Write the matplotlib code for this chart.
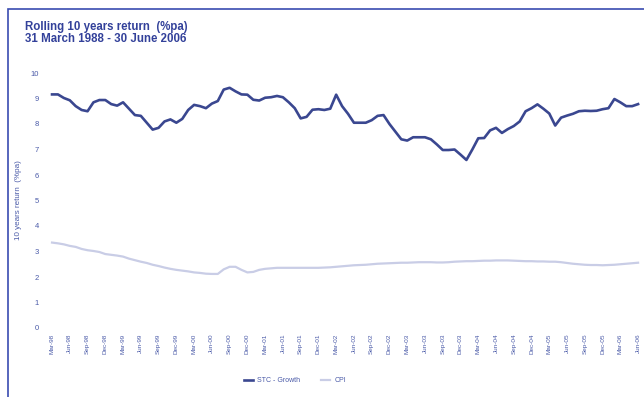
import matplotlib
matplotlib.use("Agg")
import matplotlib.pyplot as plt
from matplotlib.patches import Rectangle

# rolling 10 year returns, monthly, Mar-98 .. Jun-06
stc_growth = [9.16, 9.16, 9.02, 8.93, 8.70, 8.55, 8.50, 8.85, 8.94, 8.94,
              8.78, 8.72, 8.85, 8.60, 8.35, 8.32, 8.05, 7.78, 7.85, 8.10,
              8.18, 8.05, 8.20, 8.55, 8.75, 8.70, 8.62, 8.80, 8.90, 9.35,
              9.42, 9.28, 9.16, 9.15, 8.95, 8.92, 9.03, 9.05, 9.10, 9.05,
              8.85, 8.62, 8.22, 8.28, 8.56, 8.58, 8.55, 8.60, 9.15, 8.70,
              8.40, 8.05, 8.05, 8.05, 8.15, 8.32, 8.35, 8.00, 7.70, 7.40,
              7.35, 7.48, 7.48, 7.48, 7.40, 7.20, 6.98, 6.98, 7.00, 6.80,
              6.59, 7.00, 7.44, 7.45, 7.75, 7.85, 7.65, 7.80, 7.92, 8.10,
              8.50, 8.62, 8.77, 8.60, 8.41, 7.94, 8.25, 8.33, 8.40, 8.50,
              8.52, 8.51, 8.52, 8.58, 8.62, 8.98, 8.85, 8.70, 8.70, 8.78]
cpi = [3.35, 3.32, 3.28, 3.22, 3.18, 3.10, 3.05, 3.02, 2.98, 2.90,
       2.87, 2.84, 2.80, 2.72, 2.66, 2.60, 2.55, 2.48, 2.43, 2.37,
       2.32, 2.28, 2.25, 2.22, 2.18, 2.16, 2.13, 2.12, 2.12, 2.30,
       2.40, 2.40, 2.28, 2.18, 2.20, 2.28, 2.32, 2.34, 2.36, 2.36,
       2.36, 2.36, 2.36, 2.36, 2.36, 2.36, 2.37, 2.38, 2.40, 2.42,
       2.44, 2.46, 2.47, 2.48, 2.50, 2.52, 2.53, 2.54, 2.55, 2.56,
       2.56, 2.57, 2.58, 2.58, 2.58, 2.57, 2.57, 2.58, 2.60, 2.61,
       2.62, 2.62, 2.63, 2.64, 2.64, 2.65, 2.65, 2.65, 2.64, 2.63,
       2.62, 2.62, 2.61, 2.61, 2.60, 2.60, 2.58, 2.55, 2.52, 2.50,
       2.48, 2.47, 2.47, 2.46, 2.47, 2.48, 2.50, 2.52, 2.54, 2.56]
quarters = ["Mar", "Jun", "Sep", "Dec"]
years = ["98", "99", "00", "01", "02", "03", "04", "05", "06"]
tick_labels = [q + "-" + y for y in years for q in quarters][:34]

navy = "#3a4790"
light = "#c9cde6"
txt = "#4a5aa8"

plt.rcParams["font.family"] = ["Liberation Sans", "DejaVu Sans"]

fig = plt.figure(figsize=(6.44, 3.97), dpi=100)
W, H = 644, 397
# blue frame (top and left visible)
fig.patches.append(Rectangle((8 / W, -0.1), 1.2, 1 - 9 / H + 0.1, transform=fig.transFigure,
                             fill=False, edgecolor="#3a4cb0", linewidth=1.2))

fig.text(25 / W, 1 - 27 / H, "Rolling 10 years return  (%pa)", fontsize=8.3,
         fontweight="bold", color="#33419a", va="center")
fig.text(25 / W, 1 - 39 / H, "31 March 1988 - 30 June 2006", fontsize=8.3,
         fontweight="bold", color="#33419a", va="center")

ax = fig.add_axes([47 / W, 1 - 328 / H, (644 - 47) / W, (328 - 73) / H])
x = list(range(len(stc_growth)))
ax.plot(x, stc_growth, color=navy, linewidth=1.9, label="STC - Growth")
ax.plot(x, cpi, color=light, linewidth=1.6, label="CPI")

ax.set_ylim(0, 10)
ax.set_xlim(-0.85, 100)
ax.set_yticks(range(0, 11))
ax.set_xticks(range(0, 100, 3))
ax.set_xticklabels(tick_labels, rotation=90, fontsize=4.6, color=txt)
ax.tick_params(axis="y", labelsize=5.5, labelcolor=txt, length=0, pad=6)
ax.tick_params(axis="x", length=0, pad=4)
for s in ax.spines.values():
    s.set_visible(False)

fig.text(19 / W, 1 - 200 / H, "10 years return  (%pa)", fontsize=5.8, color=txt,
         rotation=90, ha="center", va="center")

ax.legend(loc="center", bbox_to_anchor=(295 / W, 1 - 381 / H), bbox_transform=fig.transFigure,
          ncol=2, frameon=False, fontsize=5, labelcolor=txt, handlelength=1.3,
          columnspacing=3, handletextpad=0.6)

fig.savefig("out.png", dpi=100, facecolor="white")
